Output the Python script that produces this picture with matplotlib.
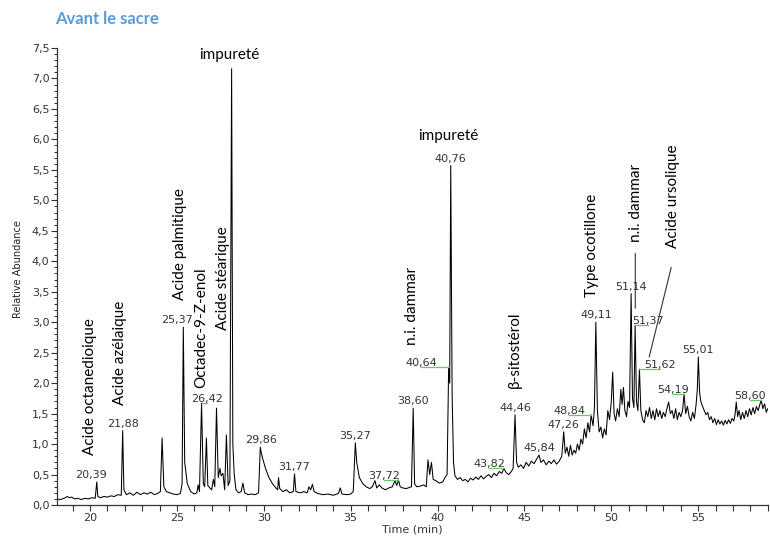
import matplotlib
matplotlib.use('Agg')
import matplotlib.pyplot as plt
from matplotlib.ticker import MultipleLocator, FuncFormatter

# chromatogram trace (time in min, relative abundance)
rt = [
    18.10, 18.3, 18.5, 18.7, 18.8, 18.95, 19.1, 19.3, 19.5, 19.7, 19.9, 20.1, 20.3,
    20.39, 20.45, 20.6, 20.8, 21.0, 21.2, 21.4, 21.6, 21.8, 21.88, 21.95, 22.1, 22.3,
    22.5, 22.7, 22.9, 23.1, 23.3, 23.5, 23.7, 23.9, 24.05, 24.15, 24.25, 24.4, 24.6,
    24.8, 25.0, 25.2, 25.3, 25.37, 25.45, 25.6, 25.8, 26.0, 26.15, 26.22, 26.3, 26.42,
    26.52, 26.6, 26.7, 26.78, 26.9, 27.0, 27.1, 27.18, 27.28, 27.38, 27.48, 27.55,
    27.65, 27.75, 27.85, 27.95, 28.05, 28.15, 28.22, 28.30, 28.4, 28.55, 28.7, 28.8,
    28.9, 29.1, 29.3, 29.5, 29.7, 29.8, 29.86, 29.95, 30.1, 30.3, 30.5, 30.7, 30.8,
    30.85, 30.92, 31.1, 31.3, 31.5, 31.7, 31.77, 31.85, 32.1, 32.3, 32.5, 32.6, 32.7,
    32.8, 32.9, 33.1, 33.4, 33.7, 34.0, 34.3, 34.4, 34.5, 34.8, 35.0, 35.15, 35.27,
    35.35, 35.5, 35.7, 35.9, 36.1, 36.25, 36.4, 36.5, 36.65, 36.8, 37.0, 37.2, 37.4,
    37.55, 37.65, 37.75, 37.85, 38.0, 38.2, 38.4, 38.5, 38.60, 38.68, 38.8, 39.0,
    39.2, 39.35, 39.45, 39.55, 39.65, 39.75, 39.9, 40.1, 40.3, 40.45, 40.55, 40.64,
    40.70, 40.76, 40.84, 40.92, 41.0, 41.15, 41.3, 41.45, 41.6, 41.75, 41.9, 42.05,
    42.2, 42.35, 42.5, 42.65, 42.8, 42.95, 43.1, 43.25, 43.4, 43.55, 43.7, 43.82,
    43.95, 44.1, 44.25, 44.35, 44.46, 44.55, 44.65, 44.8, 44.95, 45.1, 45.25, 45.4,
    45.55, 45.7, 45.84, 45.95, 46.1, 46.25, 46.4, 46.55, 46.7, 46.85, 47.0, 47.15,
    47.26, 47.35, 47.45, 47.55, 47.65, 47.75, 47.85, 47.95, 48.05, 48.15, 48.25,
    48.35, 48.45, 48.55, 48.65, 48.75, 48.84, 48.95, 49.03, 49.11, 49.2, 49.3, 49.4,
    49.5, 49.6, 49.7, 49.8, 49.9, 50.0, 50.08, 50.16, 50.25, 50.35, 50.45, 50.55,
    50.62, 50.7, 50.78, 50.88, 50.96, 51.05, 51.14, 51.22, 51.3, 51.37, 51.45, 51.53,
    51.62, 51.7, 51.8, 51.9, 52.0, 52.1, 52.2, 52.3, 52.4, 52.5, 52.6, 52.7, 52.8,
    52.9, 53.0, 53.1, 53.2, 53.3, 53.4, 53.5, 53.6, 53.7, 53.8, 53.9, 54.0, 54.1,
    54.19, 54.28, 54.38, 54.48, 54.58, 54.68, 54.78, 54.88, 54.95, 55.01, 55.08,
    55.15, 55.25, 55.35, 55.45, 55.55, 55.65, 55.75, 55.85, 55.95, 56.05, 56.15,
    56.25, 56.35, 56.45, 56.55, 56.65, 56.75, 56.85, 56.95, 57.05, 57.12, 57.19,
    57.27, 57.35, 57.45, 57.55, 57.65, 57.75, 57.85, 57.95, 58.05, 58.15, 58.25,
    58.35, 58.45, 58.55, 58.63, 58.72, 58.82, 58.92, 59.0,
]
abundance = [
    0.10, 0.09, 0.11, 0.14, 0.12, 0.13, 0.10, 0.11, 0.09, 0.11, 0.10, 0.12, 0.11,
    0.38, 0.14, 0.12, 0.14, 0.13, 0.15, 0.14, 0.17, 0.16, 1.22, 0.25, 0.17, 0.20,
    0.16, 0.21, 0.17, 0.20, 0.18, 0.21, 0.17, 0.19, 0.22, 1.10, 0.30, 0.22, 0.20,
    0.18, 0.17, 0.19, 0.35, 2.92, 0.70, 0.35, 0.22, 0.18, 0.20, 0.33, 0.22, 1.67,
    0.35, 0.30, 1.10, 0.32, 0.28, 0.25, 0.42, 0.30, 1.59, 0.45, 0.60, 0.48,
    0.52, 0.25, 1.15, 0.32, 0.40, 7.16, 1.00, 0.50, 0.25, 0.20, 0.22, 0.36,
    0.20, 0.17, 0.18, 0.17, 0.20, 0.95, 0.85, 0.75, 0.60, 0.45, 0.35, 0.28, 0.25,
    0.45, 0.27, 0.22, 0.25, 0.20, 0.22, 0.51, 0.22, 0.20, 0.22, 0.20, 0.30, 0.25,
    0.34, 0.22, 0.19, 0.17, 0.18, 0.16, 0.19, 0.28, 0.18, 0.17, 0.18, 0.22, 1.02,
    0.70, 0.45, 0.35, 0.30, 0.27, 0.30, 0.40, 0.28, 0.33, 0.28, 0.25, 0.28, 0.30,
    0.40, 0.32, 0.41, 0.30, 0.28, 0.27, 0.29, 0.30, 1.59, 0.35, 0.30, 0.31,
    0.33, 0.30, 0.74, 0.50, 0.70, 0.42, 0.40, 0.36, 0.38, 0.46, 0.50, 2.26,
    2.00, 5.57, 1.80, 0.70, 0.48, 0.42, 0.45, 0.40, 0.42, 0.38, 0.44, 0.41,
    0.46, 0.42, 0.48, 0.43, 0.47, 0.50, 0.45, 0.52, 0.48, 0.55, 0.52, 0.60,
    0.53, 0.50, 0.55, 0.60, 1.48, 0.70, 0.62, 0.66, 0.60, 0.70, 0.64, 0.72,
    0.68, 0.75, 0.82, 0.70, 0.74, 0.66, 0.72, 0.68, 0.74, 0.67, 0.72, 0.80,
    1.20, 0.85, 0.95, 0.80, 0.98, 0.82, 0.90, 0.85, 1.00, 0.90, 1.08,
    1.00, 1.25, 1.10, 1.35, 1.20, 1.48, 1.30, 1.60, 3.00, 1.55, 1.20, 1.28,
    1.10, 1.25, 1.15, 1.55, 1.40, 1.70, 2.18, 1.50, 1.38, 1.58, 1.45, 1.90,
    1.65, 1.93, 1.55, 1.45, 1.70, 1.60, 3.47, 1.75, 1.60, 2.95, 1.70, 1.55,
    2.23, 1.55, 1.40, 1.35, 1.55, 1.45, 1.60, 1.42, 1.55, 1.40, 1.58, 1.45, 1.55,
    1.42, 1.52, 1.45, 1.58, 1.69, 1.50, 1.55, 1.42, 1.58, 1.40, 1.52, 1.45, 1.55,
    1.82, 1.50, 1.62, 1.45, 1.38, 1.52, 1.42, 1.65, 1.90, 2.43, 1.85,
    1.70, 1.62, 1.55, 1.48, 1.52, 1.40, 1.45, 1.35, 1.42, 1.32, 1.40,
    1.33, 1.38, 1.31, 1.39, 1.33, 1.40, 1.34, 1.42, 1.38, 1.48, 1.69,
    1.45, 1.55, 1.40, 1.52, 1.42, 1.55, 1.45, 1.58, 1.48, 1.60, 1.50,
    1.62, 1.55, 1.65, 1.72, 1.58, 1.66, 1.52, 1.58,
]

# retention-time labels and apex heights
peak_labels = ["20,39", "21,88", "25,37", "26,42", "29,86", "31,77", "35,27", "37,72",
               "38,60", "40,64", "40,76", "43,82", "44,46", "45,84", "47,26", "48,84",
               "49,11", "51,14", "51,37", "51,62", "54,19", "55,01", "58,60"]
peak_tops = [0.38, 1.22, 2.92, 1.67, 0.95, 0.51, 1.02, 0.41,
             1.59, 2.26, 5.57, 0.60, 1.48, 0.82, 1.20, 1.48,
             3.00, 3.47, 2.95, 2.23, 1.82, 2.43, 1.72]

# compound names
compounds = ["Acide octanedioique", "Acide azélaique", "Acide palmitique",
             "Octadec-9-Z-enol", "Acide stéarique", "n.i. dammar", "β-sitostérol",
             "Type ocotillone", "n.i. dammar", "Acide ursolique"]

# layout of the annotations
name_pos = [(20.0, 0.82), (21.73, 1.64), (25.18, 3.36), (26.4, 1.92), (27.66, 2.87),
            (38.54, 2.62), (44.47, 1.92), (48.9, 3.41), (51.43, 4.31), (53.56, 4.21)]
leader_dx = {"26,42": 0.33, "37,72": -0.8, "40,64": -1.6, "43,82": -0.86,
             "48,84": -1.27, "51,37": 0.75, "51,62": 1.2, "54,19": -0.63, "58,60": -0.63}
plain_dx = {"20,39": -0.35, "25,37": -0.35}

label_font = ['Lato', 'DejaVu Sans']
num_color = '#333333'

fig = plt.figure(figsize=(7.7, 5.38), dpi=100)
ax = fig.add_axes([0.074, 0.0613, 0.923, 0.8495])

ax.plot(rt, abundance, color='black', lw=0.75)

ax.set_xlim(18.1, 59.0)
ax.set_ylim(0, 7.5)
for s in ['top', 'right']:
    ax.spines[s].set_visible(False)
for s in ['left', 'bottom']:
    ax.spines[s].set_color('#333333')
    ax.spines[s].set_linewidth(0.9)

ax.xaxis.set_major_locator(MultipleLocator(5))
ax.xaxis.set_minor_locator(MultipleLocator(1))
ax.yaxis.set_major_locator(MultipleLocator(0.5))
ax.yaxis.set_minor_locator(MultipleLocator(0.1))
ax.yaxis.set_major_formatter(FuncFormatter(lambda v, p: f"{v:.1f}".replace('.', ',')))
ax.xaxis.set_major_formatter(FuncFormatter(lambda v, p: f"{v:.0f}"))
ax.tick_params(axis='y', which='major', length=4, width=0.8, pad=1.5,
               labelsize=8, labelcolor=num_color, color='#333333')
ax.tick_params(axis='y', which='minor', length=2.5, width=0.7, color='#333333')
ax.tick_params(axis='x', which='both', length=4, width=0.8, pad=2,
               labelsize=8, labelcolor=num_color, color='#333333')
ax.set_xlabel("Time (min)", fontsize=8, color=num_color, labelpad=1)

fig.text(0.023, 0.5, "Relative Abundance", rotation=90, ha='center', va='center',
         fontsize=7, color='#222222', family=['Liberation Sans Narrow', 'DejaVu Sans'])
fig.text(0.071, 0.965, "Avant le sacre", ha='left', va='center', fontsize=12,
         fontweight='bold', color='#5B9BD5', family=label_font)

# retention time numbers
for lab, top in zip(peak_labels, peak_tops):
    t = float(lab.replace(',', '.'))
    if lab in leader_dx:
        tx = t + leader_dx[lab]
        ax.plot([t, tx], [top, top], color='#6cc46c', lw=0.9)
        ax.annotate(lab, (tx, top), xytext=(0, 3), textcoords='offset points',
                    ha='center', va='center', fontsize=8, color=num_color)
    else:
        tx = t + plain_dx.get(lab, 0)
        ax.annotate(lab, (tx, top), xytext=(0, 5), textcoords='offset points',
                    ha='center', va='center', fontsize=8, color=num_color)

# compound names
for name, (x, y) in zip(compounds, name_pos):
    ax.text(x, y, name, rotation=90, ha='center', va='bottom', fontsize=11,
            family=label_font, color='black')

ax.text(28.0, 7.38, "impureté", ha='center', va='center', fontsize=11, family=label_font)
ax.text(40.61, 6.05, "impureté", ha='center', va='center', fontsize=11, family=label_font)

# leader lines of the late labels
ax.annotate("", xy=(51.38, 3.23), xytext=(51.38, 4.13),
            arrowprops=dict(arrowstyle='-', color='#333333', lw=0.8, shrinkA=0, shrinkB=0))
ax.annotate("", xy=(52.18, 2.43), xytext=(53.45, 3.9),
            arrowprops=dict(arrowstyle='-', color='#333333', lw=0.8, shrinkA=0, shrinkB=0))

fig.savefig('out.png', dpi=100)
